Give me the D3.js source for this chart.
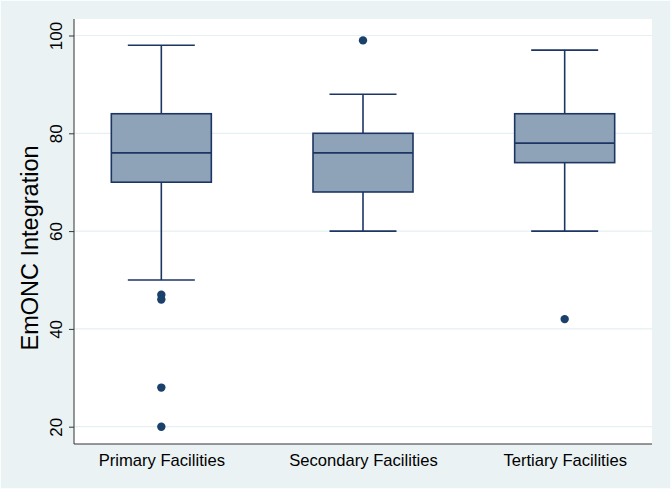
<!DOCTYPE html>
<html>
<head>
<meta charset="utf-8">
<script src="https://cdn.jsdelivr.net/npm/d3@7"></script>
<style>
  html, body { margin: 0; padding: 0; background: #ffffff; }
  svg { display: block; }
  text { font-family: "Liberation Sans", Arial, sans-serif; fill: #000; }
</style>
</head>
<body>
<script>
// ---- data ----
const categories = ["Primary Facilities", "Secondary Facilities", "Tertiary Facilities"];
const q1Values      = [70, 68, 74];
const medianValues  = [76, 76, 78];
const q3Values      = [84, 80, 84];
const lowerWhiskers = [50, 60, 60];
const upperWhiskers = [98, 88, 97];
const outlierValues = [[47, 46, 28, 20], [99], [42]];
const yTicks = [20, 40, 60, 80, 100];
const yLabel = "EmONC Integration";

// ---- layout ----
const W = 671, H = 489;
const plot = { left: 74, right: 652, top: 19, bottom: 444 };

const svg = d3.select("body").append("svg").attr("width", W).attr("height", H);

svg.append("rect").attr("x", 0).attr("y", 0).attr("width", W).attr("height", H).attr("fill", "#fafdfd");
svg.append("rect").attr("x", 1).attr("y", 1).attr("width", W - 2).attr("height", H - 2).attr("fill", "#eaf2f3");
svg.append("rect").attr("x", plot.left).attr("y", plot.top)
  .attr("width", plot.right - plot.left).attr("height", plot.bottom - plot.top).attr("fill", "#ffffff");

const y = d3.scaleLinear().domain([20, 100]).range([426.7, 35.5]);
const x = d3.scalePoint().domain(categories).range([plot.left, plot.right]).padding(0.433);

// gridlines
svg.append("g").selectAll("line").data(yTicks).join("line")
  .attr("x1", plot.left).attr("x2", plot.right)
  .attr("y1", d => y(d)).attr("y2", d => y(d))
  .attr("stroke", "#e6eff1").attr("stroke-width", 1.2);

// y axis
const yAxis = svg.append("g").attr("transform", `translate(${plot.left},0)`)
  .call(d3.axisLeft(y).tickValues(yTicks).tickSize(5).tickSizeOuter(0).tickFormat(d3.format("d")));
yAxis.select(".domain").remove();
yAxis.selectAll(".tick line").attr("stroke", "#333").attr("stroke-width", 1);
yAxis.selectAll(".tick text")
  .attr("font-size", 17)
  .attr("x", null).attr("y", null).attr("dy", "0")
  .attr("transform", "translate(-12,0) rotate(-90)")
  .attr("text-anchor", "middle");

svg.append("line").attr("x1", plot.left).attr("x2", plot.left)
  .attr("y1", plot.top).attr("y2", plot.bottom).attr("stroke", "#333").attr("stroke-width", 1);

// x axis
const xAxis = svg.append("g").attr("transform", `translate(0,${plot.bottom})`)
  .call(d3.axisBottom(x).tickSize(0).tickSizeOuter(0));
xAxis.select(".domain").remove();
xAxis.selectAll(".tick text").attr("font-size", 16.6).attr("y", 10).attr("dy", "0.71em");
svg.append("line").attr("x1", plot.left).attr("x2", plot.right)
  .attr("y1", plot.bottom).attr("y2", plot.bottom).attr("stroke", "#333").attr("stroke-width", 1);

// y label
svg.append("text")
  .attr("transform", `translate(38,248) rotate(-90)`)
  .attr("text-anchor", "middle")
  .attr("font-size", 23.5)
  .text(yLabel);

// boxes
const stroke = "#1d3563";
const boxW = 100, capW = 67;
const g = svg.append("g");
categories.forEach((c, i) => {
  const cx = x(c);
  g.append("line").attr("x1", cx).attr("x2", cx).attr("y1", y(upperWhiskers[i])).attr("y2", y(q3Values[i]))
    .attr("stroke", stroke).attr("stroke-width", 1.6);
  g.append("line").attr("x1", cx).attr("x2", cx).attr("y1", y(q1Values[i])).attr("y2", y(lowerWhiskers[i]))
    .attr("stroke", stroke).attr("stroke-width", 1.6);
  [upperWhiskers[i], lowerWhiskers[i]].forEach(v => {
    g.append("line").attr("x1", cx - capW / 2).attr("x2", cx + capW / 2).attr("y1", y(v)).attr("y2", y(v))
      .attr("stroke", stroke).attr("stroke-width", 1.6);
  });
  g.append("rect").attr("x", cx - boxW / 2).attr("width", boxW)
    .attr("y", y(q3Values[i])).attr("height", y(q1Values[i]) - y(q3Values[i]))
    .attr("fill", "#8ea3b8").attr("stroke", stroke).attr("stroke-width", 1.6);
  g.append("line").attr("x1", cx - boxW / 2).attr("x2", cx + boxW / 2)
    .attr("y1", y(medianValues[i])).attr("y2", y(medianValues[i]))
    .attr("stroke", stroke).attr("stroke-width", 1.6);
  g.selectAll(null).data(outlierValues[i]).join("circle")
    .attr("cx", cx).attr("cy", d => y(d)).attr("r", 4.2).attr("fill", "#1a406c");
});
</script>
</body>
</html>
